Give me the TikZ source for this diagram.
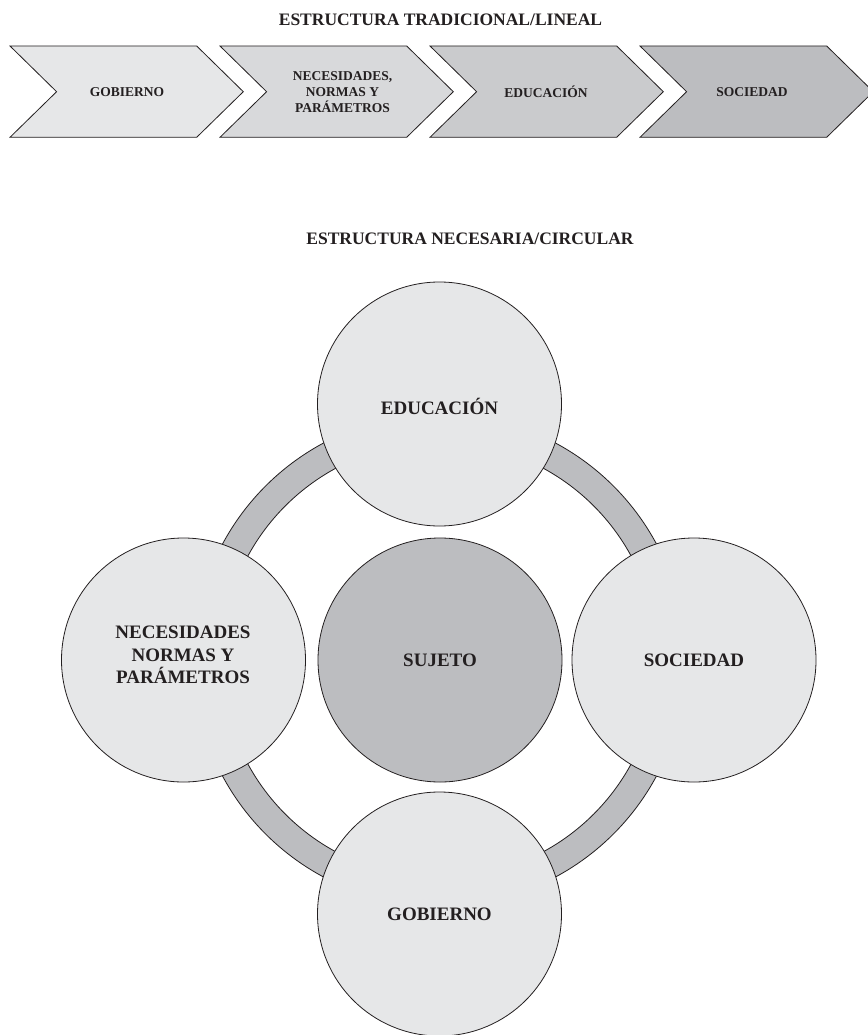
\documentclass[tikz,border=0pt]{standalone}
\usepackage{fontspec}
\setmainfont{Liberation Serif}
\definecolor{gA}{HTML}{E6E7E8}
\definecolor{gB}{HTML}{D8D9DB}
\definecolor{gC}{HTML}{CACBCD}
\definecolor{gD}{HTML}{BCBDC0}
\definecolor{edge}{HTML}{231F20}
\tikzset{
  chev/.style={draw=edge, line width=0.8pt, line join=miter},
  chevtext/.style={font=\fontsize{13.5}{15.7}\selectfont\bfseries, align=center, text=edge, inner sep=0pt},
  title/.style={font=\fontsize{17.5}{20}\selectfont\bfseries, text=edge, inner sep=0pt},
  bigcirc/.style={circle, draw=edge, line width=0.8pt, minimum size=244pt, inner sep=0pt, fill=gA,
    font=\fontsize{19}{22.3}\selectfont\bfseries, align=center, text=edge},
}
\begin{document}
\begin{tikzpicture}[x=1pt,y=-1pt]
\useasboundingbox (0,0) rectangle (867,1035);
\fill[white] (0,0) rectangle (867,1035);
% titles
\node[title] (t1) at (440.5,20) {ESTRUCTURA TRADICIONAL/LINEAL};
\node[title] (t2) at (470,238.5) {ESTRUCTURA NECESARIA/CIRCULAR};
% chevrons
\foreach \L/\col in {10/gA,220/gB,430/gC,640/gD}{
  \filldraw[chev, fill=\col] (\L,46) -- ++(186.7,0) -- ++(46.6,45.7) -- ++(-46.6,45.6) -- ++(-186.7,0) -- ++(46.6,-45.6) -- cycle;
}
\node[chevtext] (c1) at (127,92) {GOBIERNO};
\node[chevtext] (c2) at (342.5,92) {NECESIDADES,\\NORMAS Y\\PARÁMETROS};
\node[chevtext] (c3) at (546,92) {EDUCACIÓN};
\node[chevtext] (c4) at (752,92) {SOCIEDAD};
% ring
\coordinate (ctr) at (439.5,660);
\fill[gD, even odd rule] (ctr) circle (246) (ctr) circle (218);
\draw[edge, line width=0.8pt] (ctr) circle (246) (ctr) circle (218);
% circles
\node[bigcirc] (edu) at (439.5,404) {};
\node[bigcirc] (nec) at (183.5,660) {};
\node[bigcirc] (soc) at (694,660) {};
\node[bigcirc] (gob) at (439.5,914) {};
\node[bigcirc, fill=gD] (suj) at (440,660) {SUJETO};
\node[font=\fontsize{19}{22.3}\selectfont\bfseries, text=edge, inner sep=0pt] (edut) at (439.5,406) {EDUCACIÓN};
\node[font=\fontsize{19}{22.3}\selectfont\bfseries, text=edge, align=center, inner sep=0pt] (nect) at (183,655) {NECESIDADES\\NORMAS Y\\PARÁMETROS};
\node[font=\fontsize{19}{22.3}\selectfont\bfseries, text=edge, inner sep=0pt] (soct) at (694,660) {SOCIEDAD};
\node[font=\fontsize{19}{22.3}\selectfont\bfseries, text=edge, inner sep=0pt] (gobt) at (439.5,914) {GOBIERNO};
\end{tikzpicture}
\end{document}
